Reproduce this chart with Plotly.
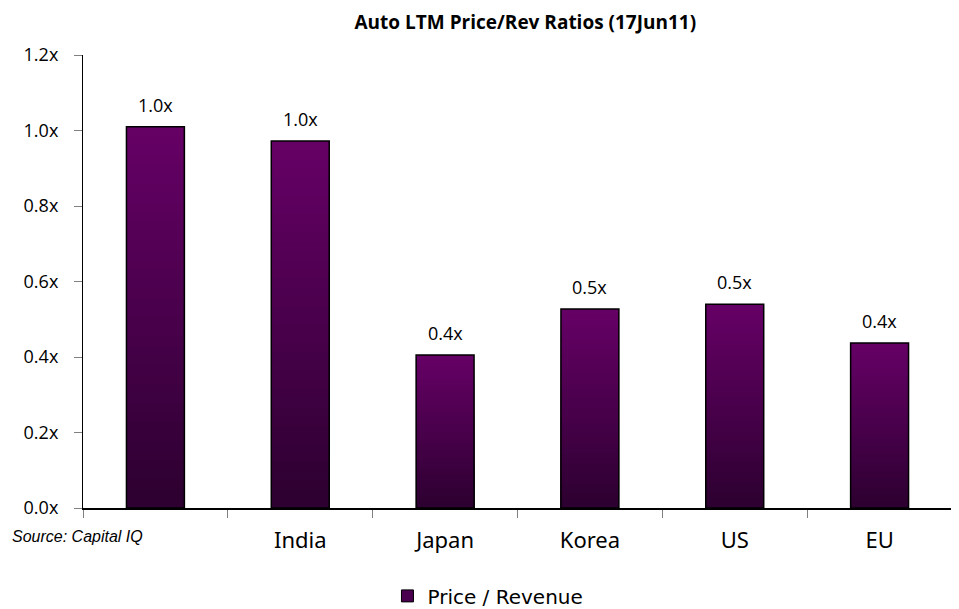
import plotly.graph_objects as go

categories = ["", "India", "Japan", "Korea", "US", "EU"]
values = [1.01, 0.972, 0.405, 0.527, 0.540, 0.437]
y_ticks = [0.0, 0.2, 0.4, 0.6, 0.8, 1.0, 1.2]
y_tick_labels = ["0.0x", "0.2x", "0.4x", "0.6x", "0.8x", "1.0x", "1.2x"]
series_name = "Price / Revenue"
title = "Auto LTM Price/Rev Ratios (17Jun11)"
source = "Source: Capital IQ"

top_rgb = (0x66, 0x00, 0x66)
bot_rgb = (0x2c, 0x00, 0x30)
N = 40
xs = list(range(len(categories)))
width = 0.4

fig = go.Figure()
# nested bars: full-height lightest first, then progressively shorter/darker on top
for i in range(N):
    frac = (N - i) / N
    t = (N - i - 0.5) / N
    c = tuple(round(bot_rgb[k] + (top_rgb[k] - bot_rgb[k]) * t) for k in range(3))
    fig.add_trace(go.Bar(
        x=xs, y=[v * frac for v in values],
        width=width, marker=dict(color="rgb(%d,%d,%d)" % c, line=dict(width=0)),
        showlegend=False, hoverinfo="skip"))

fig.add_trace(go.Bar(
    x=xs, y=values, width=width,
    marker=dict(color="rgba(0,0,0,0)", line=dict(color="black", width=1.5)),
    showlegend=False))

fig.add_trace(go.Bar(
    x=[None], y=[None], name=series_name,
    marker=dict(color="#4a004e", line=dict(color="black", width=1))))

for x, v in zip(xs, values):
    fig.add_annotation(x=x, y=v, text="%.1fx" % v, showarrow=False,
                       yshift=22, font=dict(size=18, color="black", family="Open Sans"))

fig.add_annotation(xref="paper", yref="paper", x=-0.084, y=-0.064, xanchor="left",
                   yanchor="middle", text="<i>" + source + "</i>", showarrow=False,
                   font=dict(size=16, family="Liberation Sans", color="black"))

fig.update_layout(
    width=951, height=601,
    margin=dict(l=75, r=7, t=47, b=101, autoexpand=False),
    plot_bgcolor="white", paper_bgcolor="white",
    barmode="overlay",
    title=dict(text="<b>" + title + "</b>", x=0.544, xanchor="center", y=0.9767, yanchor="middle",
               font=dict(size=19, family="Open Sans", color="black")),
    showlegend=True,
    legend=dict(orientation="h", x=0.466, xanchor="center", y=-0.194, yanchor="middle",
                font=dict(size=20, family="DejaVu Sans", color="black"),
                itemwidth=30),
    xaxis=dict(range=[-0.5, 5.5], tickvals=xs, ticktext=categories, ticks="",
               showline=True, linecolor="black", linewidth=1.5, showgrid=False, zeroline=False,
               automargin=False, ticklabelstandoff=12,
               tickfont=dict(size=22, family="Noto Sans", color="black"),
               minor=dict(ticks="outside", tick0=0.5, dtick=1, ticklen=8, tickcolor="gray", showgrid=False)),
    yaxis=dict(range=[0, 1.2], tickvals=y_ticks, ticktext=y_tick_labels,
               ticks="outside", ticklen=8, tickcolor="gray", automargin=False,
               ticklabelstandoff=12,
               showline=True, linecolor="black", linewidth=1.2, showgrid=False, zeroline=False,
               tickfont=dict(size=18, family="Open Sans", color="black")),
)

fig.write_html("out.html")
